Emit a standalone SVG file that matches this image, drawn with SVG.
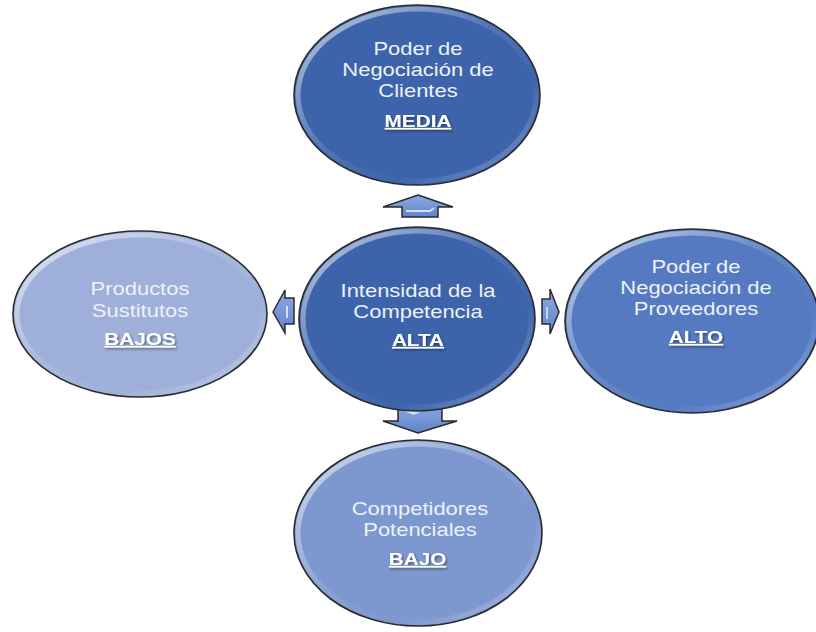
<svg xmlns="http://www.w3.org/2000/svg" width="816" height="632" viewBox="0 0 816 632">
  <style>
    .rim { stroke: #2b2b2b; stroke-width: 1.6; }
    .glow { fill: none; stroke: url(#rimLight); stroke-width: 5; opacity: 0.75; }
    .lbl { font-family: "Liberation Sans", Arial, sans-serif; font-size: 18px; fill: #eef1f8; text-anchor: middle; }
    .key { font-family: "Liberation Sans", Arial, sans-serif; font-size: 17px; font-weight: bold; fill: #ffffff; text-anchor: middle; text-decoration: underline; filter: url(#txtShadow); }
    .arrow { fill: url(#arrowFill); stroke: #2b2b2b; stroke-width: 1.5; stroke-linejoin: miter; }
  </style>
  <defs>
    <linearGradient id="rimLight" x1="0" y1="0" x2="1" y2="1">
      <stop offset="0" stop-color="#ffffff" stop-opacity="0.9"/>
      <stop offset="0.45" stop-color="#ffffff" stop-opacity="0.15"/>
      <stop offset="0.7" stop-color="#ffffff" stop-opacity="0"/>
      <stop offset="1" stop-color="#ffffff" stop-opacity="0.45"/>
    </linearGradient>
    <linearGradient id="arrowFill" x1="0" y1="0" x2="0" y2="1">
      <stop offset="0" stop-color="#8fa9e0"/>
      <stop offset="1" stop-color="#5f84cc"/>
    </linearGradient>
    <filter id="txtShadow" x="-10%" y="-20%" width="130%" height="160%">
      <feDropShadow dx="1" dy="1.5" stdDeviation="0.8" flood-color="#000" flood-opacity="0.45"/>
    </filter>
  </defs>

  <rect width="816" height="632" fill="#ffffff"/>

  <!-- connectors: block arrows from the centre outward -->
  <g id="connectors">
    <path class="arrow" d="M418,195 L453,207 L438,207 L438,217 L402,217 L402,207 L383,207 Z"/>
    <path d="M406,211 L430,211 L434,208" fill="none" stroke="#ffffff" stroke-width="2" opacity="0.7"/>
    <path class="arrow" d="M398,403 L442,403 L442,421 L457,421 L418,433 L383,421 L398,421 Z"/>
    <path d="M404,411 L424,410 L414,415" fill="#ffffff" opacity="0.7"/>
    <path class="arrow" d="M273,312 L285,290 L285,298 L294,298 L294,324 L285,324 L285,333 Z"/>
    <path d="M287,306 L287,318" stroke="#ffffff" stroke-width="2" opacity="0.7"/>
    <path class="arrow" d="M542,299 L550,299 L550,289 L559,312 L550,334 L550,324 L542,324 Z"/>
    <path d="M547,307 L547,319" stroke="#ffffff" stroke-width="2" opacity="0.6"/>
  </g>

  <g id="clientes">
    <ellipse class="rim" cx="417" cy="95" rx="123" ry="90" fill="#3d64ab"/>
    <ellipse class="glow" cx="417" cy="95" rx="119" ry="86"/>
    <g transform="translate(418,0) scale(1.22,1)">
      <text class="lbl" x="0" y="55">Poder de</text>
      <text class="lbl" x="0" y="76">Negociación de</text>
      <text class="lbl" x="0" y="97">Clientes</text>
      <text class="key" x="0" y="127">MEDIA</text>
    </g>
  </g>

  <g id="sustitutos">
    <ellipse class="rim" cx="140" cy="314" rx="127" ry="83" fill="#9eb0d9"/>
    <ellipse class="glow" cx="140" cy="314" rx="123" ry="79"/>
    <g transform="translate(140,0) scale(1.22,1)">
      <text class="lbl" x="0" y="295">Productos</text>
      <text class="lbl" x="0" y="317">Sustitutos</text>
      <text class="key" x="0" y="345">BAJOS</text>
    </g>
  </g>

  <g id="competencia">
    <ellipse class="rim" cx="417" cy="319" rx="118" ry="92" fill="#3d64ab"/>
    <ellipse class="glow" cx="417" cy="319" rx="114" ry="88"/>
    <g transform="translate(418,0) scale(1.22,1)">
      <text class="lbl" x="0" y="297">Intensidad de la</text>
      <text class="lbl" x="0" y="318">Competencia</text>
      <text class="key" x="0" y="346">ALTA</text>
    </g>
  </g>

  <g id="proveedores">
    <ellipse class="rim" cx="692" cy="321" rx="127" ry="92" fill="#557ac2"/>
    <ellipse class="glow" cx="692" cy="321" rx="123" ry="88"/>
    <g transform="translate(696,0) scale(1.22,1)">
      <text class="lbl" x="0" y="273">Poder de</text>
      <text class="lbl" x="0" y="294">Negociación de</text>
      <text class="lbl" x="0" y="315">Proveedores</text>
      <text class="key" x="0" y="343">ALTO</text>
    </g>
  </g>

  <g id="potenciales">
    <ellipse class="rim" cx="418" cy="533" rx="124" ry="93" fill="#7d97cf"/>
    <ellipse class="glow" cx="418" cy="533" rx="120" ry="89"/>
    <g transform="translate(420,0) scale(1.22,1)">
      <text class="lbl" x="0" y="515">Competidores</text>
      <text class="lbl" x="0" y="536">Potenciales</text>
      <text class="key" x="-2" y="565">BAJO</text>
    </g>
  </g>
</svg>
